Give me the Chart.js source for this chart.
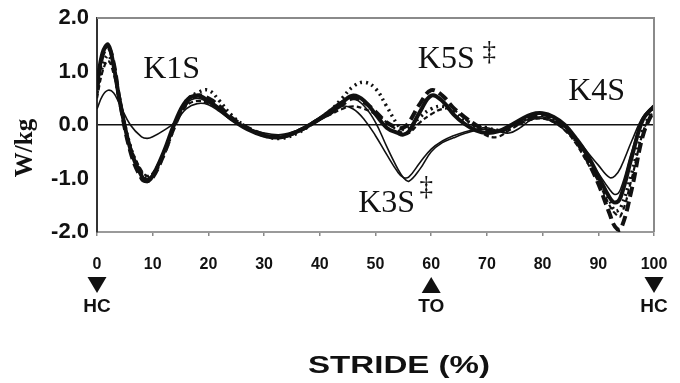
<!DOCTYPE html>
<html>
<head>
<meta charset="utf-8">
<script src="https://cdn.jsdelivr.net/npm/chart.js@4.4.1/dist/chart.umd.min.js"></script>
<style>
  html, body { margin: 0; padding: 0; background: #fff; }
  canvas { display: block; }
</style>
</head>
<body>
<canvas id="power" width="680" height="383"></canvas>
<script>
// Knee power over the stride, W/kg, one curve per condition
const stride = [0,1,2,3,4,6,8,9,10,12,14,16,18,20,22,24,27,30,33,36,39,42,44,46,48,50,52,54,55,56,58,60,62,64,66,68,70,72,74,76,78,80,82,84,86,88,90,92,93,94,96,98,100];

const solidHeavy = [0.75,1.35,1.5,1.1,0.5, -0.45,-0.95,-1.05,-0.95, -0.5,0.05,0.45,0.55,0.45,0.3,0.12, -0.08,-0.2,-0.23,-0.12,0.05,0.25, 0.42,0.55,0.45,0.2,-0.05,-0.15,-0.18,-0.12,0.25,0.55, 0.45,0.2,0.02,-0.1,-0.15,-0.12,-0.02,0.1,0.2,0.22, 0.15,0.0,-0.25,-0.55,-0.95,-1.35,-1.45,-1.35,-0.6,0.1,0.35];

const dashedHeavy = [0.65,1.3,1.45,1.15,0.5, -0.5,-1.0,-1.05,-0.98, -0.55,0.0,0.4,0.55,0.5,0.35,0.15, -0.05,-0.18,-0.22,-0.12,0.05,0.25, 0.38,0.5,0.42,0.25,0.05,-0.05,-0.05,0.05,0.4,0.65, 0.55,0.32,0.15,0.0,-0.1,-0.12,-0.05,0.05,0.15,0.2, 0.12,-0.05,-0.3,-0.65,-1.1,-1.65,-1.9,-1.95,-1.2,-0.2,0.3];

const dotted = [0.6,1.1,1.3,1.05,0.5, -0.4,-0.9,-1.0,-0.95, -0.55,0.0,0.45,0.6,0.65,0.45,0.2, -0.05,-0.2,-0.25,-0.15,0.05,0.28, 0.5,0.72,0.8,0.68,0.35,0.0,-0.08,-0.05,0.15,0.3, 0.35,0.25,0.1,0.0,-0.05,-0.1,-0.05,0.05,0.15,0.18, 0.1,-0.05,-0.3,-0.6,-1.0,-1.4,-1.6,-1.55,-0.9,-0.1,0.35];

const solidThinA = [0.3,0.55,0.65,0.6,0.4, 0.0,-0.22,-0.25,-0.22, -0.1,0.05,0.3,0.4,0.38,0.25,0.1, -0.05,-0.15,-0.18,-0.1,0.05,0.2, 0.35,0.3,0.1,-0.2,-0.55,-0.88,-0.98,-0.97,-0.7,-0.45, -0.3,-0.2,-0.13,-0.08,-0.05,-0.1,-0.05,0.05,0.12,0.15, 0.08,-0.05,-0.25,-0.5,-0.75,-0.98,-0.95,-0.8,-0.3,0.15,0.38];

const solidThinB = [0.7,1.3,1.45,1.15,0.5, -0.45,-0.95,-1.0,-0.92, -0.5,0.05,0.4,0.5,0.42,0.28,0.1, -0.08,-0.2,-0.22,-0.1,0.08,0.3, 0.45,0.5,0.35,0.05,-0.4,-0.82,-0.98,-1.05,-0.82,-0.5, -0.33,-0.24,-0.16,-0.1,-0.08,-0.12,-0.15,-0.05,0.1,0.12, 0.05,-0.1,-0.3,-0.6,-0.9,-1.2,-1.3,-1.2,-0.5,0.1,0.35];

const dashedThin = [0.5,1.0,1.2,0.95,0.45, -0.4,-0.85,-0.95,-0.9, -0.5,0.0,0.35,0.45,0.4,0.3,0.12, -0.05,-0.18,-0.2,-0.1,0.05,0.2, 0.3,0.35,0.3,0.2,0.05,-0.1,-0.15,-0.15,0.05,0.2, 0.3,0.28,0.12,-0.05,-0.2,-0.22,-0.1,0.02,0.1,0.12, 0.05,-0.1,-0.35,-0.7,-1.05,-1.5,-1.65,-1.7,-1.0,-0.15,0.3];

const yTicks = [-2, -1, 0, 1, 2];
const xTicks = [0, 10, 20, 30, 40, 50, 60, 70, 80, 90, 100];

// Phase labels placed in data units (stride %, W/kg)
const phaseLabels = [
  { text: 'K1S', s: 8.3,  v: 0.88 },
  { text: 'K5S', s: 57.6, v: 1.07, dagger: { s: 70.4, v: 1.22 } },
  { text: 'K4S', s: 84.6, v: 0.47 },
  { text: 'K3S', s: 46.9, v: -1.63, dagger: { s: 59.1, v: -1.3 } }
];

// Gait events under the axis
const gaitEvents = [
  { s: 0,   label: 'HC', dir: 'down' },
  { s: 60,  label: 'TO', dir: 'up' },
  { s: 100, label: 'HC', dir: 'down' }
];

const INK = '#111';
const toPoints = arr => arr.map((v, i) => ({ x: stride[i], y: v }));

const lineStyle = (data, width, dash) => ({
  data: toPoints(data),
  borderColor: INK,
  borderWidth: width,
  borderDash: dash,
  pointRadius: 0,
  tension: 0.4,
  fill: false
});

const overlay = {
  id: 'overlay',
  afterDatasetsDraw(chart) {
    const { ctx, chartArea: a, scales: { x, y } } = chart;
    ctx.save();

    // top and right frame
    ctx.strokeStyle = '#8a8a8a';
    ctx.lineWidth = 2;
    ctx.beginPath();
    ctx.moveTo(a.left, a.top);
    ctx.lineTo(a.right, a.top);
    ctx.lineTo(a.right, a.bottom);
    ctx.stroke();

    // phase labels
    ctx.fillStyle = INK;
    ctx.textAlign = 'left';
    ctx.textBaseline = 'alphabetic';
    phaseLabels.forEach(p => {
      ctx.font = '32px "Liberation Serif", "Times New Roman", serif';
      ctx.fillText(p.text, x.getPixelForValue(p.s), y.getPixelForValue(p.v));
      if (p.dagger) {
        ctx.font = '27px "Liberation Serif", "Times New Roman", serif';
        ctx.textAlign = 'center';
        ctx.fillText('\u2021', x.getPixelForValue(p.dagger.s), y.getPixelForValue(p.dagger.v));
        ctx.textAlign = 'left';
      }
    });

    // gait event markers
    ctx.textAlign = 'center';
    ctx.textBaseline = 'middle';
    ctx.font = 'bold 19px "Liberation Sans", Arial, sans-serif';
    gaitEvents.forEach(e => {
      const cx = x.getPixelForValue(e.s);
      const top = a.bottom + 45, bot = a.bottom + 61, hw = 9.5;
      ctx.beginPath();
      if (e.dir === 'down') {
        ctx.moveTo(cx - hw, top); ctx.lineTo(cx + hw, top); ctx.lineTo(cx, bot);
      } else {
        ctx.moveTo(cx - hw, bot); ctx.lineTo(cx + hw, bot); ctx.lineTo(cx, top);
      }
      ctx.closePath();
      ctx.fill();
      ctx.fillText(e.label, cx, a.bottom + 75);
    });

    // axis titles
    ctx.save();
    ctx.font = 'bold 24px "Liberation Sans", Arial, sans-serif';
    const title = 'STRIDE (%)';
    const w = ctx.measureText(title).width;
    ctx.translate(399, 366);
    ctx.scale(182 / w, 1);
    ctx.fillText(title, 0, 0);
    ctx.restore();

    ctx.save();
    ctx.font = 'bold 25px "Liberation Serif", "Times New Roman", serif';
    ctx.translate(26, 148);
    ctx.rotate(-Math.PI / 2);
    ctx.fillText('W/kg', 0, 0);
    ctx.restore();

    ctx.restore();
  }
};

new Chart(document.getElementById('power'), {
  type: 'line',
  data: {
    datasets: [
      lineStyle(solidThinA, 1.6, []),
      lineStyle(solidThinB, 1.6, []),
      lineStyle(dashedThin, 2.2, [5, 3]),
      lineStyle(dotted, 3.5, [2, 4]),
      lineStyle(dashedHeavy, 4, [10, 5]),
      lineStyle(solidHeavy, 4, [])
    ]
  },
  options: {
    responsive: false,
    devicePixelRatio: 1,
    animation: false,
    events: [],
    layout: { autoPadding: false, padding: { top: 18, right: 26, bottom: 0, left: 0 } },
    plugins: { legend: { display: false }, tooltip: { enabled: false } },
    scales: {
      x: {
        type: 'linear',
        min: 0,
        max: 100,
        afterFit: s => { s.height = 151; s.paddingLeft = 0; s.paddingRight = 0; },
        afterBuildTicks: s => { s.ticks = xTicks.map(v => ({ value: v })); },
        ticks: {
          color: INK,
          padding: 19,
          maxRotation: 0,
          font: { family: '"Liberation Sans", Arial, sans-serif', size: 16, weight: 'bold' }
        },
        grid: { drawOnChartArea: false, drawTicks: true, tickLength: 4, color: '#888', lineWidth: 1.5 },
        border: { display: true, color: '#9a9a9a', width: 2 }
      },
      y: {
        min: -2,
        max: 2,
        afterFit: s => { s.width = 97; s.paddingTop = 0; s.paddingBottom = 0; },
        afterBuildTicks: s => { s.ticks = yTicks.map(v => ({ value: v })); },
        ticks: {
          color: INK,
          padding: 8,
          callback: v => v.toFixed(1),
          font: { family: '"Liberation Sans", Arial, sans-serif', size: 22, weight: 'bold' }
        },
        grid: {
          drawTicks: false,
          lineWidth: 1.6,
          color: c => (c.tick && c.tick.value === 0 ? INK : 'rgba(0,0,0,0)')
        },
        border: { display: true, color: '#333', width: 2 }
      }
    }
  },
  plugins: [overlay]
});
</script>
</body>
</html>
